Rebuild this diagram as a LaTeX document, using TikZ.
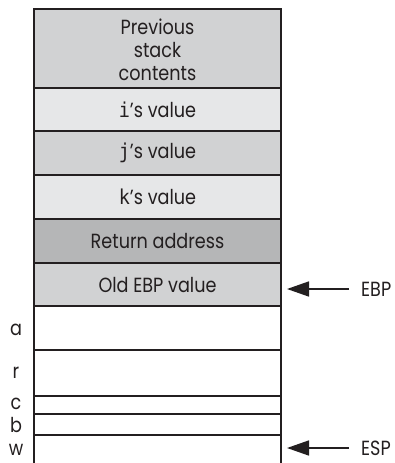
\documentclass[tikz,border=0pt]{standalone}
\usepackage{fontspec}
\setmainfont{Poppins}[FakeStretch=0.86]
\setmonofont{DejaVu Sans Mono}[FakeStretch=0.9]
\usetikzlibrary{arrows.meta}
\definecolor{ink}{HTML}{231F20}
\definecolor{gmid}{HTML}{D1D2D3}
\definecolor{glight}{HTML}{E6E7E8}
\definecolor{gdark}{HTML}{B5B6B7}
\begin{document}
\begin{tikzpicture}[x=1pt,y=-1pt,
  cell/.style={draw=ink,line width=1.8pt},
  lbl/.style={font=\fontsize{20.5}{23}\selectfont,text=ink,align=center,inner sep=0pt},
  side/.style={font=\fontsize{20.5}{22}\selectfont,text=ink,inner sep=0pt},
  ptr/.style={draw=ink,line width=1.6pt,-{Triangle[length=22pt,width=15pt]}}]
\useasboundingbox (0,0) rectangle (395,463);
% rows
\path[cell,fill=gmid] (34,9) rectangle (281,88);
\path[cell,fill=glight] (34,88) rectangle (281,131);
\path[cell,fill=gmid] (34,131) rectangle (281,175);
\path[cell,fill=glight] (34,175) rectangle (281,219);
\path[cell,fill=gdark] (34,219) rectangle (281,263);
\path[cell,fill=gmid] (34,263) rectangle (281,306);
\path[cell] (34,306) rectangle (281,350);
\path[cell] (34,350) rectangle (281,396);
\path[cell] (34,396) rectangle (281,414);
\path[cell] (34,414) rectangle (281,435);
\draw[cell] (34,463) -- (34,435) -- (281,435) -- (281,463);
% texts
\node[lbl] (prev) at (157.5,50) {Previous\\stack\\contents};
\node[lbl] (iv) at (157.5,110) {\texttt{i}’s value};
\node[lbl] (jv) at (157.5,153) {\texttt{j}’s value};
\node[lbl] (kv) at (157.5,197) {\texttt{k}’s value};
\node[lbl] (ra) at (157.5,241) {Return address};
\node[lbl] (oe) at (157.5,285) {Old EBP value};
% side labels
\node[side] (la) at (16,330) {a};
\node[side] (lr) at (16,373) {r};
\node[side] (lc) at (16,404) {c};
\node[side] (lb) at (16,425) {b};
\node[side] (lw) at (16,450) {w};
% pointers
\node[side,anchor=west] (ebp) at (361,289) {EBP};
\node[side,anchor=west] (esp) at (361,448) {ESP};
\coordinate (ebptip) at (287,289);
\coordinate (esptip) at (287,448);
\draw[ptr] ([xshift=-12pt]ebp.west) -- (ebptip);
\draw[ptr] ([xshift=-12pt]esp.west) -- (esptip);
\end{tikzpicture}
\end{document}
